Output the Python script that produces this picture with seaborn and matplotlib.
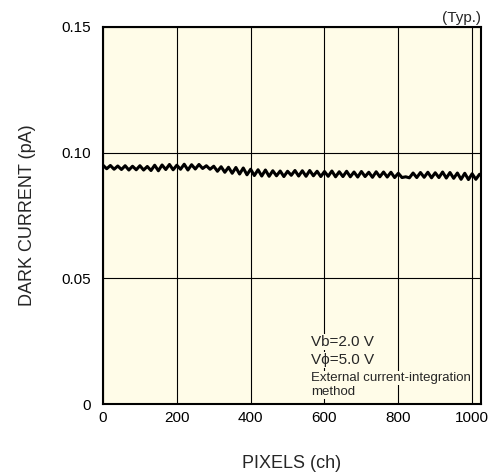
import numpy as np
import pandas as pd
import matplotlib
matplotlib.use("Agg")
import matplotlib.pyplot as plt
import seaborn as sns

# channel grid (every 10 ch) and dark current (pA)
channels = list(range(0, 1030, 10))
dark_current = [
    0.0950, 0.0936, 0.0949, 0.0934, 0.0947, 0.0933, 0.0948, 0.0931, 0.0946, 0.0932,
    0.0948, 0.0931, 0.0945, 0.0929, 0.0950, 0.0928, 0.0951, 0.0933, 0.0953, 0.0932,
    0.0950, 0.0934, 0.0954, 0.0931, 0.0952, 0.0935, 0.0953, 0.0937, 0.0948, 0.0934,
    0.0946, 0.0926, 0.0944, 0.0922, 0.0942, 0.0918, 0.0941, 0.0915, 0.0939, 0.0912,
    0.0934, 0.0909, 0.0932, 0.0907, 0.0931, 0.0906, 0.0928, 0.0908, 0.0927, 0.0905,
    0.0926, 0.0910, 0.0929, 0.0907, 0.0928, 0.0906, 0.0929, 0.0908, 0.0926, 0.0905,
    0.0925, 0.0906, 0.0927, 0.0904, 0.0924, 0.0905, 0.0926, 0.0904, 0.0923, 0.0903,
    0.0925, 0.0905, 0.0922, 0.0902, 0.0924, 0.0904, 0.0923, 0.0903, 0.0922, 0.0901,
    0.0918, 0.0901, 0.0904, 0.0900, 0.0919, 0.0901, 0.0921, 0.0902, 0.0922, 0.0900,
    0.0920, 0.0901, 0.0923, 0.0899, 0.0921, 0.0898, 0.0919, 0.0894, 0.0918, 0.0893,
    0.0916, 0.0894, 0.0914,
]
x_ticks = [0, 200, 400, 600, 800, 1000]
y_ticks = [0, 0.05, 0.10, 0.15]
y_tick_labels = ["0", "0.05", "0.10", "0.15"]
notes = ["Vb=2.0 V", "V\u03d5=5.0 V", "External current-integration", "method"]

df = pd.DataFrame({"ch": channels, "current": dark_current})

sns.set_style("white")
plt.rcParams["font.family"] = ["Liberation Sans", "DejaVu Sans"]

bg = "#fffce8"
fig = plt.figure(figsize=(4.94, 4.76), dpi=100)
ax = fig.add_axes([103 / 494, 1 - 404 / 476, 378 / 494, 377 / 476])
ax.set_facecolor(bg)

sns.lineplot(data=df, x="ch", y="current", ax=ax, color="black", linewidth=2.2)

ax.set_xlim(0, 1024)
ax.set_ylim(0, 0.15)
ax.set_xticks(x_ticks)
ax.set_yticks(y_ticks)
ax.set_yticklabels(y_tick_labels)
ax.grid(True, color="black", linewidth=0.8)
ax.set_axisbelow(True)
ax.tick_params(direction="in", length=4, width=0.8, labelsize=11, colors="black")
ax.tick_params(axis="y", pad=9)
ax.tick_params(axis="x", pad=5)
for s in ax.spines.values():
    s.set_color("black")
    s.set_linewidth(1.5)

ax.set_xlabel("PIXELS (ch)", fontsize=13, labelpad=22)
ax.set_ylabel("DARK CURRENT (pA)", fontsize=13, labelpad=18)

ax.text(1.0, 1.005, "(Typ.)", transform=ax.transAxes, ha="right", va="bottom", fontsize=11)

note_y = [0.164, 0.117, 0.069, 0.032]
note_size = [11, 11, 9.5, 9.5]
for txt, yy, fs in zip(notes, note_y, note_size):
    ax.text(0.55, yy, txt, transform=ax.transAxes, ha="left", va="center", fontsize=fs,
            bbox=dict(facecolor=bg, edgecolor="none", pad=0.5), zorder=5)

fig.savefig("out.png", dpi=100)
